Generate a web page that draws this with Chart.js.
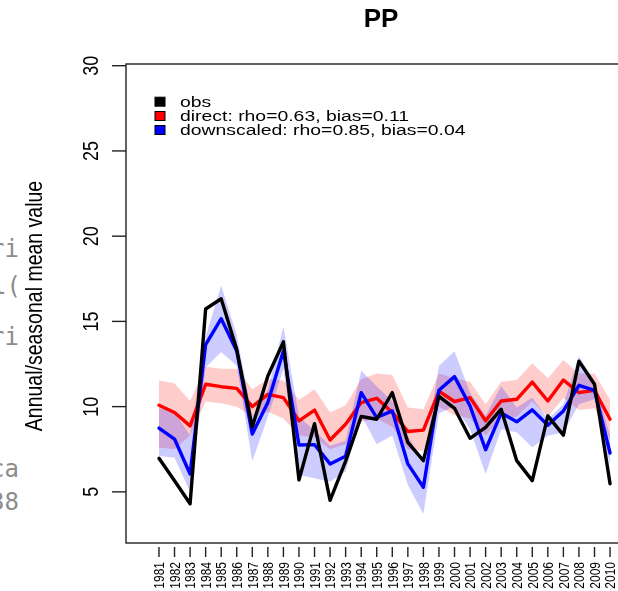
<!DOCTYPE html>
<html>
<head>
<meta charset="utf-8">
<script src="https://cdn.jsdelivr.net/npm/chart.js@4.4.0/dist/chart.umd.min.js"></script>
<style>
html, body { margin: 0; padding: 0; background: #fff; overflow: hidden; width: 618px; height: 591px; }
#wrap { position: relative; width: 618px; height: 591px; overflow: hidden; }
canvas { position: absolute; left: 0; top: 0; }
.code { position: absolute; font-family: "DejaVu Sans Mono", monospace; font-size: 24px; color: #8c8c8c; white-space: pre; line-height: 1; }
</style>
</head>
<body>
<div id="wrap">
  <div class="code" style="left:-10px;top:237px">ri</div>
  <div class="code" style="left:-8px;top:274px">l(</div>
  <div class="code" style="left:-10px;top:325px">ri</div>
  <div class="code" style="left:-10px;top:457px">ca</div>
  <div class="code" style="left:-10px;top:490px">38</div>
  <canvas id="chartPP" width="660" height="591"></canvas>
</div>
<script>
// years on the x axis
var years = [1981, 1982, 1983, 1984, 1985, 1986, 1987, 1988, 1989, 1990,
  1991, 1992, 1993, 1994, 1995, 1996, 1997, 1998, 1999, 2000,
  2001, 2002, 2003, 2004, 2005, 2006, 2007, 2008, 2009, 2010];

// observed series
var obs = [6.97, 5.65, 4.3, 15.73, 16.33, 13.35, 8.8, 11.8, 13.8, 5.7,
  9.0, 4.5, 6.8, 9.42, 9.26, 10.82, 7.9, 6.83, 10.6, 9.9,
  8.14, 8.78, 9.85, 6.83, 5.66, 9.46, 8.33, 12.67, 11.31, 5.47];

// direct model (red) and its spread
var direct = [10.08, 9.66, 8.87, 11.31, 11.17, 11.07, 10.0, 10.72, 10.53, 9.17,
  9.8, 8.04, 8.97, 10.24, 10.49, 9.66, 8.54, 8.62, 10.9, 10.3,
  10.53, 9.17, 10.33, 10.43, 11.44, 10.33, 11.56, 10.82, 10.96, 9.26];
var directUpper = [11.54, 11.37, 10.33, 12.34, 12.22, 12.22, 11.02, 11.6, 11.54, 10.39,
  11.02, 9.66, 10.08, 11.6, 11.95, 11.86, 9.95, 9.85, 11.95, 11.66,
  11.46, 10.14, 11.46, 11.56, 12.54, 11.66, 12.73, 11.95, 11.95, 10.4];
var directLower = [7.6, 7.5, 8.3, 10.3, 10.2, 10.0, 9.4, 9.7, 9.3, 8.3,
  8.2, 7.5, 7.8, 9.1, 9.3, 8.8, 7.5, 7.4, 10.0, 9.5,
  9.3, 8.3, 9.3, 9.4, 10.3, 9.4, 10.5, 9.8, 9.9, 8.1];

// downscaled model (blue) and its spread
var downscaled = [8.74, 8.1, 6.05, 13.64, 15.16, 13.26, 8.39, 10.24, 13.26, 7.75,
  7.77, 6.64, 7.09, 10.82, 9.36, 9.75, 6.64, 5.27, 10.96, 11.76,
  10.04, 7.47, 9.62, 9.11, 9.81, 8.91, 9.75, 11.25, 10.96, 7.28];
var downUpper = [9.9, 9.7, 8.3, 14.1, 17.1, 14.2, 9.4, 11.0, 14.7, 9.4,
  8.6, 7.7, 8.0, 12.1, 11.2, 10.3, 8.3, 6.7, 12.4, 13.25,
  10.82, 9.46, 11.21, 9.95, 10.53, 9.26, 10.14, 12.96, 11.5, 8.29];
var downLower = [7.1, 7.0, 5.0, 12.3, 13.2, 12.4, 6.8, 9.4, 12.2, 6.0,
  5.8, 5.6, 6.2, 9.5, 7.8, 8.3, 5.4, 3.7, 9.6, 10.04,
  8.68, 6.05, 8.68, 8.49, 7.61, 8.29, 8.49, 10.14, 10.43, 6.57];

var yTicks = [5, 10, 15, 20, 25, 30];
var legendLabels = ["obs", "direct: rho=0.63, bias=0.11", "downscaled: rho=0.85, bias=0.04"];
var legendColors = ["#000000", "#ff0000", "#0000ff"];

function pts(vals) {
  return years.map(function(y, i) { return {x: y, y: vals[i]}; });
}

// text looks stretched sideways in the reference
var SX = 1.25;
function drawText(ctx, txt, x, y, rot, sx) {
  ctx.save();
  ctx.translate(x, y);
  ctx.scale(sx, 1);
  ctx.rotate(rot);
  ctx.fillText(txt, 0, 0);
  ctx.restore();
}

var rDecor = {
  id: 'rDecor',
  afterDraw: function(chart) {
    var ctx = chart.ctx;
    var a = chart.chartArea;
    var xs = chart.scales.x, ys = chart.scales.y;
    ctx.save();
    ctx.strokeStyle = "#222";
    ctx.fillStyle = "#000";
    ctx.lineWidth = 1.4;
    // box
    ctx.strokeRect(a.left, a.top, a.right - a.left, a.bottom - a.top);

    // y axis ticks + labels
    ctx.font = "18px 'Liberation Sans', Arial, sans-serif";
    ctx.textAlign = "center";
    ctx.textBaseline = "alphabetic";
    yTicks.forEach(function(t) {
      var py = ys.getPixelForValue(t);
      ctx.beginPath();
      ctx.moveTo(a.left - 14, py);
      ctx.lineTo(a.left, py);
      ctx.stroke();
      drawText(ctx, String(t), 98, py, -Math.PI / 2, SX);
    });

    // x axis ticks + labels
    ctx.font = "12px 'Liberation Sans', Arial, sans-serif";
    ctx.textAlign = "right";
    years.forEach(function(yr) {
      var px = xs.getPixelForValue(yr);
      ctx.beginPath();
      ctx.moveTo(px, a.bottom + 4);
      ctx.lineTo(px, a.bottom + 14);
      ctx.stroke();
      drawText(ctx, String(yr), px + 5.3, a.bottom + 19, -Math.PI / 2, SX);
    });

    // y axis title
    ctx.font = "19.5px 'Liberation Sans', Arial, sans-serif";
    ctx.textAlign = "center";
    drawText(ctx, "Annual/seasonal mean value", 42, 306, -Math.PI / 2, 1.2);

    // title
    ctx.font = "bold 26px 'Liberation Sans', Arial, sans-serif";
    ctx.fillText("PP", 381, 27);

    // legend
    var rowsY = [101.7, 116, 130];
    ctx.font = "15.5px 'Liberation Sans', Arial, sans-serif";
    ctx.textAlign = "left";
    ctx.textBaseline = "middle";
    legendLabels.forEach(function(lbl, i) {
      ctx.fillStyle = legendColors[i];
      ctx.fillRect(155, rowsY[i] - 4.5, 10, 9);
      ctx.strokeStyle = "#000";
      ctx.lineWidth = 1;
      ctx.strokeRect(155, rowsY[i] - 4.5, 10, 9);
      ctx.fillStyle = "#000";
      drawText(ctx, lbl, 180, rowsY[i] + 1, 0, SX);
    });
    ctx.restore();
  }
};

var lineStyle = {
  fill: false,
  borderWidth: 3.4,
  pointRadius: 0,
  tension: 0,
  borderJoinStyle: 'round',
  borderCapStyle: 'round'
};

var data = {
  datasets: [
    Object.assign({label: "obs", data: pts(obs), borderColor: "#000000", order: 0}, lineStyle),
    Object.assign({label: "downscaled", data: pts(downscaled), borderColor: "#0000ff", order: 1}, lineStyle),
    Object.assign({label: "direct", data: pts(direct), borderColor: "#ff0000", order: 2}, lineStyle),
    // blue spread
    {data: pts(downUpper), borderWidth: 0, pointRadius: 0, tension: 0,
      backgroundColor: "rgba(0,0,255,0.2)", fill: '+1', order: 3},
    {data: pts(downLower), borderWidth: 0, pointRadius: 0, tension: 0, fill: false, order: 3},
    // red spread
    {data: pts(directUpper), borderWidth: 0, pointRadius: 0, tension: 0,
      backgroundColor: "rgba(255,0,0,0.2)", fill: '+1', order: 4},
    {data: pts(directLower), borderWidth: 0, pointRadius: 0, tension: 0, fill: false, order: 4}
  ]
};

var options = {
  responsive: false,
  animation: false,
  layout: { padding: { left: 126, top: 64, right: 19, bottom: 48 } },
  plugins: { legend: { display: false }, tooltip: { enabled: false } },
  scales: {
    x: { type: 'linear', display: false, min: 1978.88, max: 2011.99 },
    y: { type: 'linear', display: false, min: 2.0, max: 30.1 }
  }
};

var ctx = document.getElementById("chartPP").getContext("2d");
new Chart(ctx, { type: 'line', data: data, options: options, plugins: [rDecor] });
</script>
</body>
</html>
